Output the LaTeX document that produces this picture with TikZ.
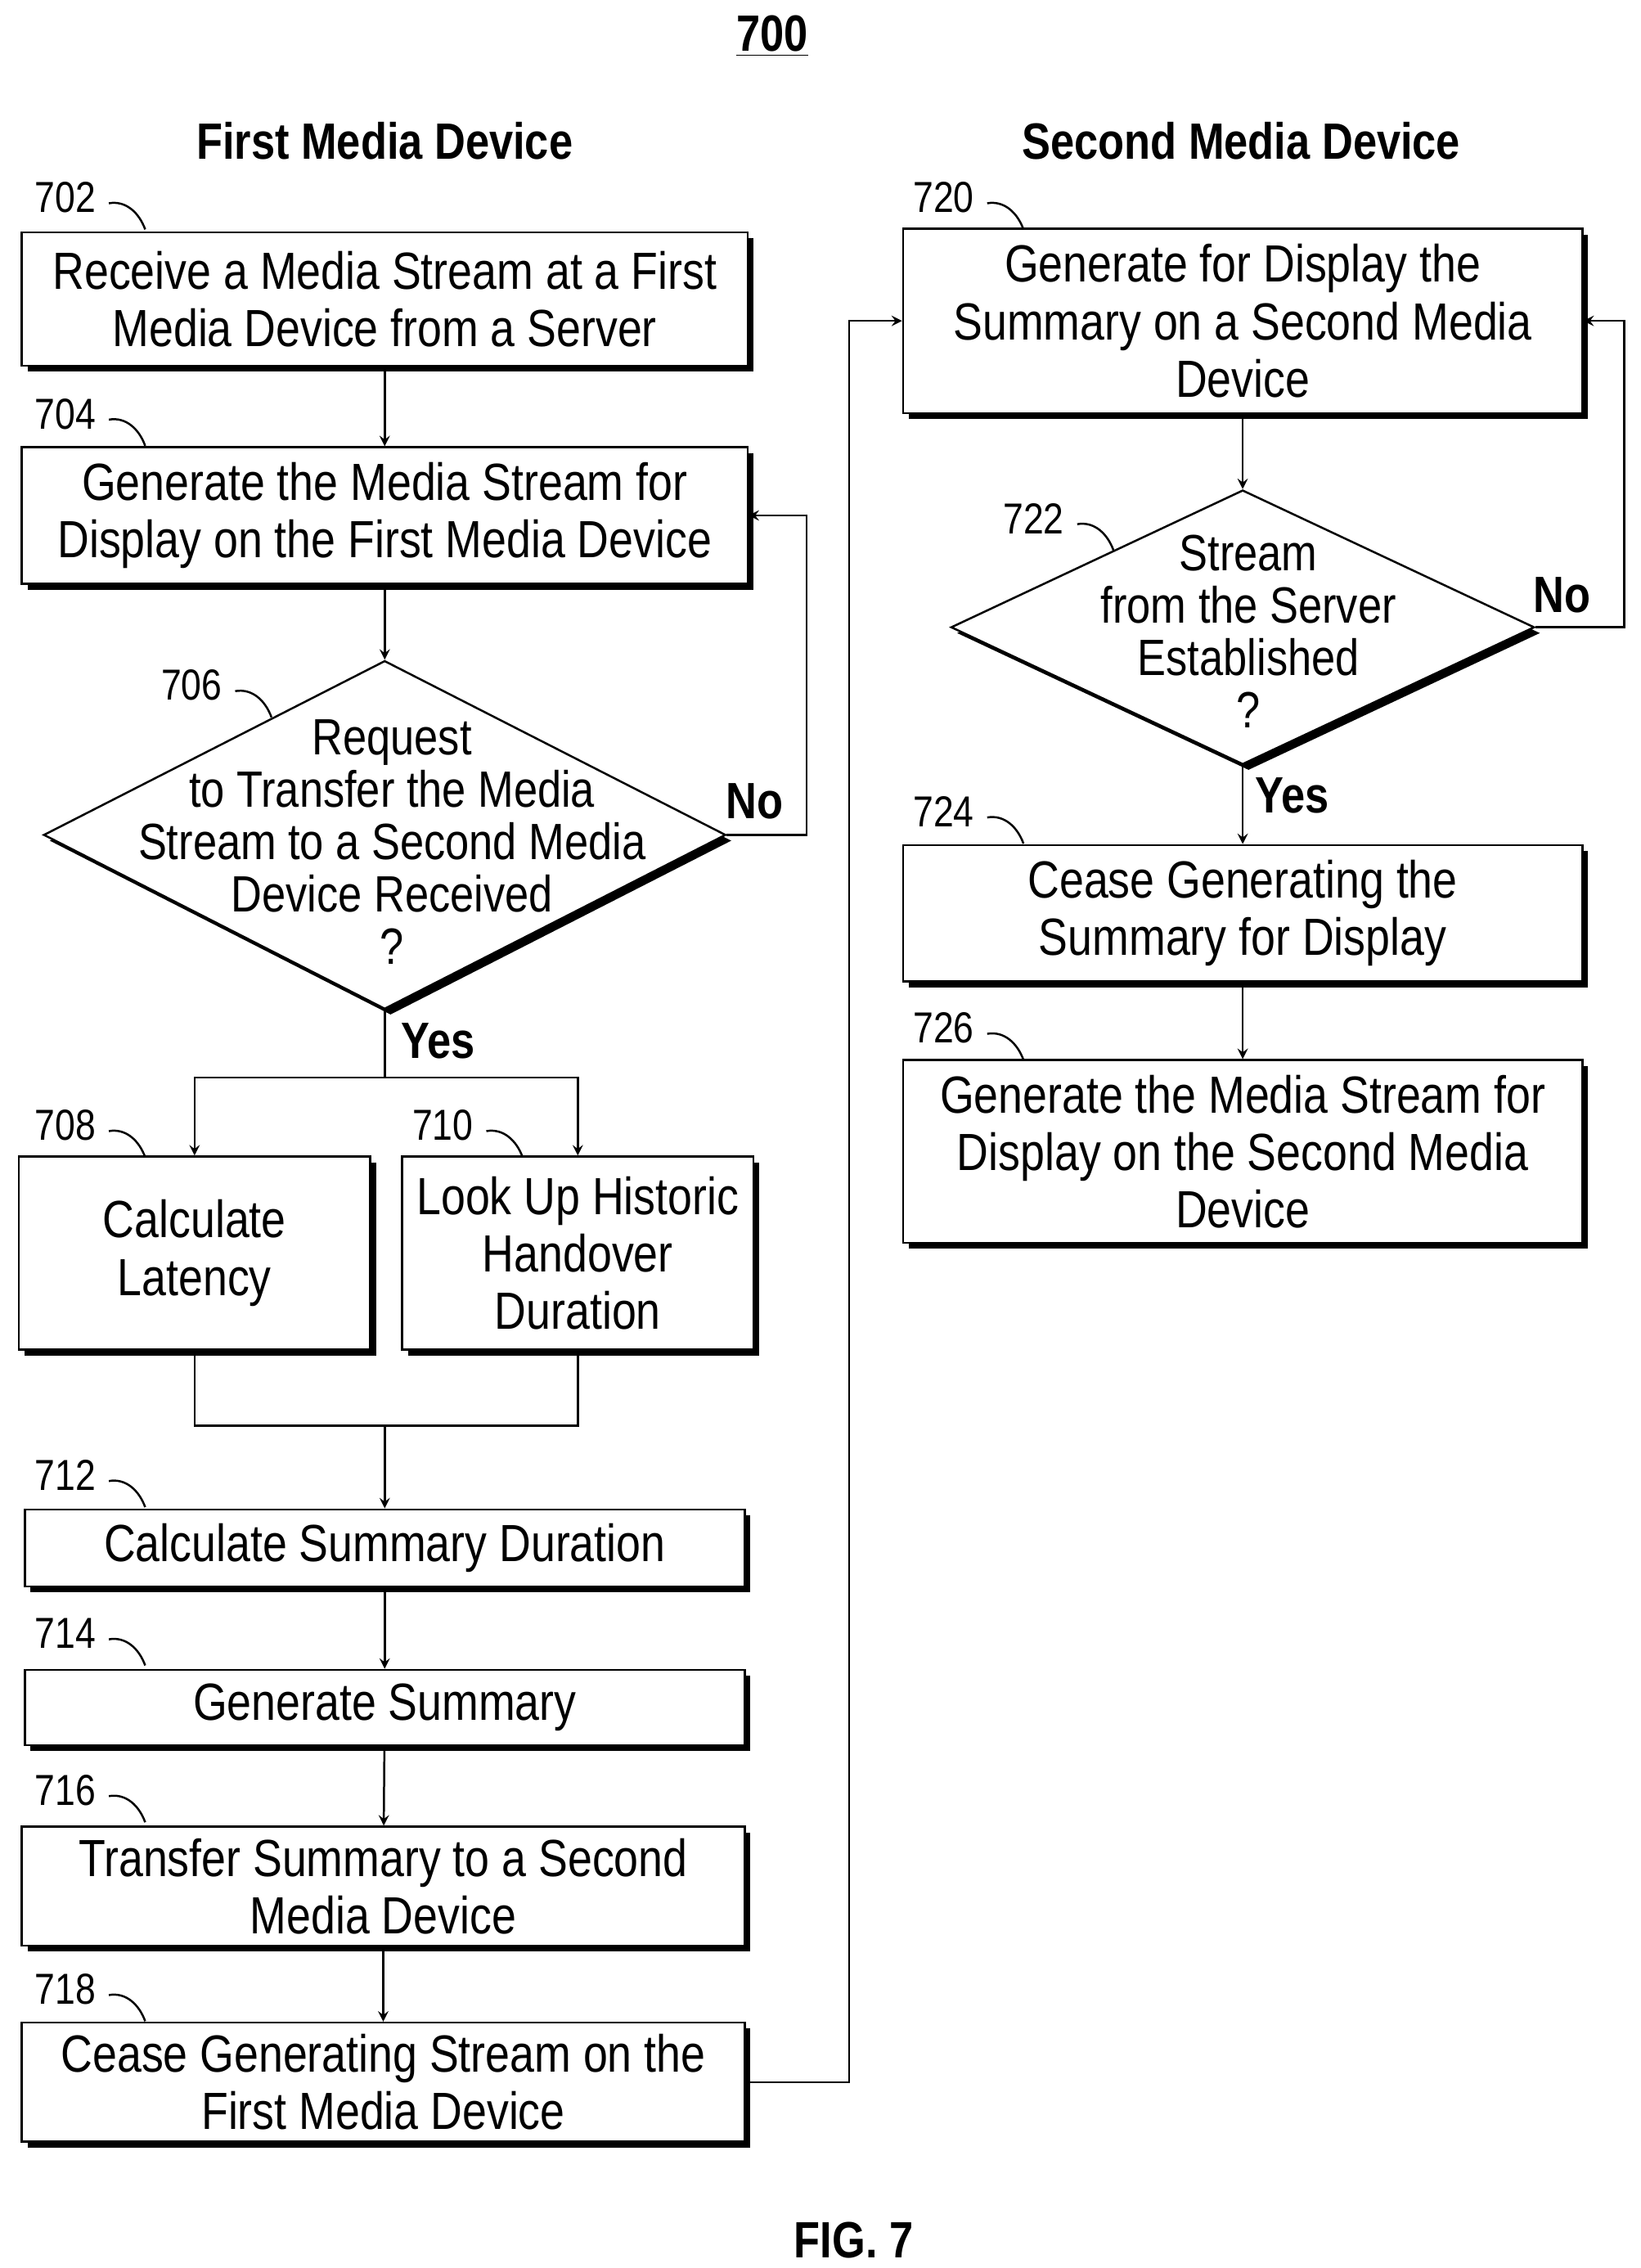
\documentclass[tikz,border=0pt]{standalone}
\usepackage{fontspec}
\setmainfont[FakeStretch=0.84]{Liberation Sans}
\usetikzlibrary{shapes.geometric, arrows, positioning, shadows, calc}
\tikzstyle{arrow} = [thick,->,>=stealth]
\tikzstyle{line} = [thick]
\tikzstyle{process} = [rectangle, draw=black, thick, fill=white, text centered, align=center, inner sep=1pt,
  font=\fontsize{20.5}{22.5}\selectfont,
  drop shadow={fill=black, opacity=1, shadow xshift=0.08cm, shadow yshift=-0.08cm}]
\tikzstyle{decision} = [diamond, draw=black, thick, fill=white, inner sep=0pt,
  drop shadow={fill=black, opacity=1, shadow xshift=0.08cm, shadow yshift=-0.08cm}]
\tikzstyle{dtext} = [align=center, font=\fontsize{20}{20.5}\selectfont]
\tikzstyle{title} = [font=\fontsize{20}{24}\selectfont\bfseries]
\tikzstyle{steptext} = [font=\fontsize{17}{20}\selectfont]
\newcommand{\steplabel}[3]{%
  \node[steptext] (s#1) at (#2,#3) {#1};
  \draw[thick] (#2+30,#3+4) to[out=10,in=110] (#2+55,#3+22);}

\begin{document}
\begin{tikzpicture}[x=0.02cm, y=-0.02cm]
    \useasboundingbox (0,0) rectangle (1130,1562);
    % Titles
    \node[title] (fig) at (532,25) {\underline{700}};
    \node[title] (first) at (265,97) {First Media Device};
    \node[title] (second) at (855,97) {Second Media Device};
    \node[title] (figno) at (588,1543) {FIG. 7};

    % First media device
    \node[process, minimum width=10cm, minimum height=1.84cm] (receive) at (265,206)
        {Receive a Media Stream at a First\\Media Device from a Server};
    \node[process, minimum width=10cm, minimum height=1.88cm] (display) at (265,355)
        {Generate the Media Stream for\\Display on the First Media Device};
    \node[decision, minimum width=9.4cm, minimum height=4.8cm] (request) at (265,575) {};
    \node[dtext] (requesttext) at (270,580)
        {Request\\to Transfer the Media\\Stream to a Second Media\\Device Received\\?};
    \node[process, minimum width=4.84cm, minimum height=2.66cm] (latency) at (134,863)
        {Calculate\\Latency};
    \node[process, minimum width=4.84cm, minimum height=2.66cm] (lookup) at (398,863)
        {Look Up Historic\\Handover\\Duration};
    \node[process, minimum width=9.92cm, minimum height=1.06cm] (duration) at (265,1066)
        {Calculate Summary Duration};
    \node[process, minimum width=9.92cm, minimum height=1.04cm] (summary) at (265,1176)
        {Generate Summary};
    \node[process, minimum width=9.96cm, minimum height=1.64cm] (transfer) at (264,1299)
        {Transfer Summary to a Second\\Media Device};
    \node[process, minimum width=9.96cm, minimum height=1.64cm] (cease) at (264,1434)
        {Cease Generating Stream on the\\First Media Device};

    % Second media device
    \node[process, minimum width=9.36cm, minimum height=2.54cm] (showsum) at (856,221)
        {Generate for Display the\\Summary on a Second Media\\Device};
    \node[decision, minimum width=8.04cm, minimum height=3.78cm] (established) at (856,432) {};
    \node[dtext] (establishedtext) at (860,435)
        {Stream\\from the Server\\Established\\?};
    \node[process, minimum width=9.36cm, minimum height=1.88cm] (stopsum) at (856,629)
        {Cease Generating the\\Summary for Display};
    \node[process, minimum width=9.36cm, minimum height=2.52cm] (showstream) at (856,793)
        {Generate the Media Stream for\\Display on the Second Media\\Device};

    % Step numbers
    \steplabel{702}{45}{136}
    \steplabel{704}{45}{285}
    \steplabel{706}{132}{472}
    \steplabel{708}{45}{775}
    \steplabel{710}{305}{775}
    \steplabel{712}{45}{1016}
    \steplabel{714}{45}{1125}
    \steplabel{716}{45}{1233}
    \steplabel{718}{45}{1370}
    \steplabel{720}{650}{136}
    \steplabel{722}{712}{357}
    \steplabel{724}{650}{559}
    \steplabel{726}{650}{708}

    % Connectors
    \draw[arrow] (receive) -- (display);
    \draw[arrow] (display) -- (request);
    \draw[arrow] (request.east) -- ++(55,0) |- (display.east);
    \node[title] (no1) at (520,552) {No};
    \coordinate (split) at (265,742);
    \draw[line] (request.south) -- (split);
    \node[title] (yes1) at (302,717) {Yes};
    \draw[arrow] (split) -| (latency.north);
    \draw[arrow] (split) -| (lookup.north);
    \coordinate (merge) at (265,982);
    \draw[line] (latency.south) |- (merge) -| (lookup.south);
    \draw[arrow] (merge) -- (duration);
    \draw[arrow] (duration) -- (summary);
    \draw[arrow] (summary) -- (transfer);
    \draw[arrow] (transfer) -- (cease);
    \draw[arrow] (cease.east) -- (585,1434) |- (showsum.west);
    \draw[arrow] (showsum) -- (established);
    \draw[arrow] (established.east) -- ++(61,0) |- (showsum.east);
    \node[title] (no2) at (1076,410) {No};
    \draw[arrow] (established.south) -- (stopsum);
    \node[title] (yes2) at (890,548) {Yes};
    \draw[arrow] (stopsum) -- (showstream);
\end{tikzpicture}
\end{document}
